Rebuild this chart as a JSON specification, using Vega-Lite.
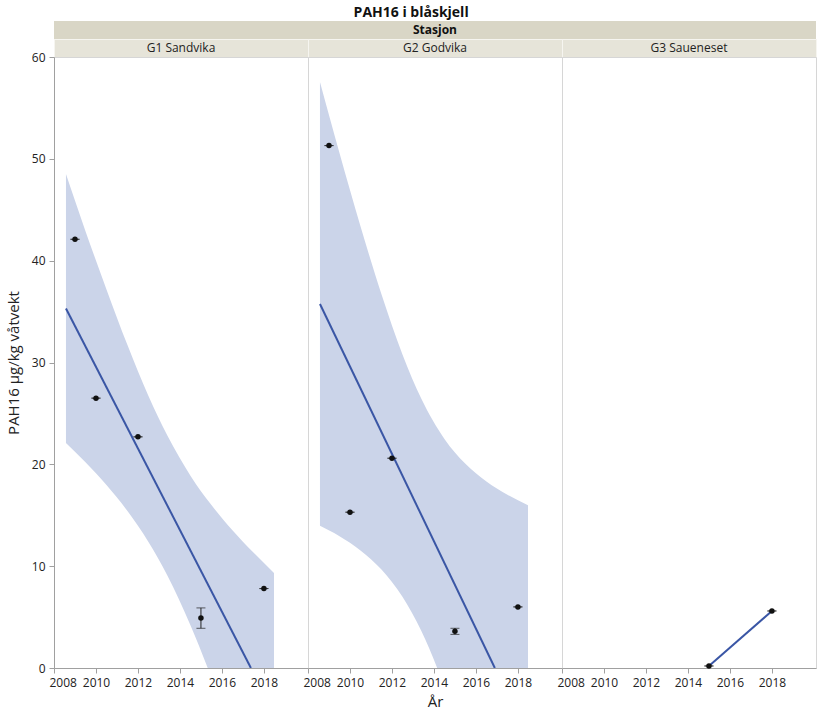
{
  "$schema": "https://vega.github.io/schema/vega-lite/v6.json",
  "padding": {"left": 5, "top": 6, "right": 5, "bottom": 5},
  "background": "white",
  "title": {"text": "PAH16 i blåskjell", "fontSize": 14, "fontWeight": "bold", "font": "Open Sans", "color": "#111", "anchor": "middle", "offset": 1},
  "datasets": {
    "points": [
      {"stasjon": "G1 Sandvika", "year": 2009, "value": 42.1, "lo": 42.1, "hi": 42.1},
      {"stasjon": "G1 Sandvika", "year": 2010, "value": 26.5, "lo": 26.5, "hi": 26.5},
      {"stasjon": "G1 Sandvika", "year": 2012, "value": 22.7, "lo": 22.7, "hi": 22.7},
      {"stasjon": "G1 Sandvika", "year": 2015, "value": 4.9, "lo": 3.9, "hi": 5.9},
      {"stasjon": "G1 Sandvika", "year": 2018, "value": 7.8, "lo": 7.8, "hi": 7.8},
      {"stasjon": "G2 Godvika", "year": 2009, "value": 51.3, "lo": 51.3, "hi": 51.3},
      {"stasjon": "G2 Godvika", "year": 2010, "value": 15.3, "lo": 15.3, "hi": 15.3},
      {"stasjon": "G2 Godvika", "year": 2012, "value": 20.6, "lo": 20.6, "hi": 20.6},
      {"stasjon": "G2 Godvika", "year": 2015, "value": 3.6, "lo": 3.3, "hi": 3.9},
      {"stasjon": "G2 Godvika", "year": 2018, "value": 6.0, "lo": 6.0, "hi": 6.0},
      {"stasjon": "G3 Saueneset", "year": 2015, "value": 0.2, "lo": 0.2, "hi": 0.2},
      {"stasjon": "G3 Saueneset", "year": 2018, "value": 5.6, "lo": 5.6, "hi": 5.6}
    ],
    "fit": [
      {"stasjon": "G1 Sandvika", "year": 2008.57, "value": 35.3},
      {"stasjon": "G1 Sandvika", "year": 2017.38, "value": 0},
      {"stasjon": "G2 Godvika", "year": 2008.57, "value": 35.75},
      {"stasjon": "G2 Godvika", "year": 2016.9, "value": 0},
      {"stasjon": "G3 Saueneset", "year": 2015, "value": 0.2},
      {"stasjon": "G3 Saueneset", "year": 2018, "value": 5.6}
    ],
    "band": [
      {"stasjon": "G1 Sandvika", "year": 2008.57, "lo": 22.1, "hi": 48.5},
      {"stasjon": "G1 Sandvika", "year": 2009.5, "lo": 20.2, "hi": 42.9},
      {"stasjon": "G1 Sandvika", "year": 2010.5, "lo": 17.96, "hi": 37.18},
      {"stasjon": "G1 Sandvika", "year": 2011.5, "lo": 15.41, "hi": 31.71},
      {"stasjon": "G1 Sandvika", "year": 2012.5, "lo": 12.38, "hi": 26.72},
      {"stasjon": "G1 Sandvika", "year": 2013.4, "lo": 9.08, "hi": 22.82},
      {"stasjon": "G1 Sandvika", "year": 2014.5, "lo": 4.19, "hi": 18.89},
      {"stasjon": "G1 Sandvika", "year": 2015.5, "lo": -0.94, "hi": 16.0},
      {"stasjon": "G1 Sandvika", "year": 2016.5, "lo": -6.49, "hi": 13.53},
      {"stasjon": "G1 Sandvika", "year": 2017.5, "lo": -12.3, "hi": 11.34},
      {"stasjon": "G1 Sandvika", "year": 2018.48, "lo": -18.15, "hi": 9.33},
      {"stasjon": "G2 Godvika", "year": 2008.57, "lo": 13.96, "hi": 57.54},
      {"stasjon": "G2 Godvika", "year": 2009.5, "lo": 12.94, "hi": 50.58},
      {"stasjon": "G2 Godvika", "year": 2010.5, "lo": 11.55, "hi": 43.39},
      {"stasjon": "G2 Godvika", "year": 2011.5, "lo": 9.67, "hi": 36.69},
      {"stasjon": "G2 Godvika", "year": 2012.5, "lo": 6.99, "hi": 30.79},
      {"stasjon": "G2 Godvika", "year": 2013.4, "lo": 3.63, "hi": 26.43},
      {"stasjon": "G2 Godvika", "year": 2014.5, "lo": -1.88, "hi": 22.5},
      {"stasjon": "G2 Godvika", "year": 2015.5, "lo": -8.01, "hi": 20.05},
      {"stasjon": "G2 Godvika", "year": 2016.5, "lo": -14.85, "hi": 18.31},
      {"stasjon": "G2 Godvika", "year": 2017.5, "lo": -22.13, "hi": 17.01},
      {"stasjon": "G2 Godvika", "year": 2018.48, "lo": -29.51, "hi": 15.99}
    ]
  },
  "columns": 3,
  "spacing": 0,
  "bounds": "flush",
  "concat": [
    {
      "data": {"values": [{"t": ""}]},
      "width": 254, "height": 18,
      "view": {"fill": "#d9d6c6", "stroke": null},
      "mark": {"type": "text", "fontSize": 12},
      "encoding": {"text": {"field": "t"}}
    },
    {
      "data": {"values": [{"t": "Stasjon"}]},
      "width": 254, "height": 18,
      "view": {"fill": "#d9d6c6", "stroke": null},
      "mark": {"type": "text", "fontSize": 12, "fontWeight": "bold", "font": "Open Sans", "color": "#111"},
      "encoding": {"text": {"field": "t"}}
    },
    {
      "data": {"values": [{"t": ""}]},
      "width": 254, "height": 18,
      "view": {"fill": "#d9d6c6", "stroke": null},
      "mark": {"type": "text", "fontSize": 12},
      "encoding": {"text": {"field": "t"}}
    },
    {
      "data": {"values": [{"t": "G1 Sandvika"}]},
      "width": 254, "height": 18,
      "view": {"fill": "#e6e4d9", "stroke": "#f6f5f0"},
      "mark": {"type": "text", "fontSize": 12, "font": "Open Sans", "color": "#222"},
      "encoding": {"text": {"field": "t"}}
    },
    {
      "data": {"values": [{"t": "G2 Godvika"}]},
      "width": 254, "height": 18,
      "view": {"fill": "#e6e4d9", "stroke": "#f6f5f0"},
      "mark": {"type": "text", "fontSize": 12, "font": "Open Sans", "color": "#222"},
      "encoding": {"text": {"field": "t"}}
    },
    {
      "data": {"values": [{"t": "G3 Saueneset"}]},
      "width": 254, "height": 18,
      "view": {"fill": "#e6e4d9", "stroke": "#f6f5f0"},
      "mark": {"type": "text", "fontSize": 12, "font": "Open Sans", "color": "#222"},
      "encoding": {"text": {"field": "t"}}
    },
    {
      "width": 254, "height": 611,
      "layer": [
        {
          "data": {"name": "band"},
          "transform": [{"filter": "datum.stasjon === 'G1 Sandvika'"}],
          "mark": {"type": "area", "color": "#cbd4e9", "opacity": 1, "clip": true, "interpolate": "monotone"},
          "encoding": {
            "x": {"field": "year", "type": "quantitative", "scale": {"domain": [2008, 2020.1], "nice": false}, "axis": {"values": [2008, 2010, 2012, 2014, 2016, 2018], "format": "d", "title": null, "labelFlush": true, "labelFlushOffset": 5}},
            "y": {"field": "lo", "type": "quantitative", "scale": {"domain": [0, 60], "nice": false}, "axis": {"values": [0, 10, 20, 30, 40, 50, 60], "title": "PAH16 µg/kg våtvekt", "titleFontSize": 15, "titleFontWeight": "normal", "titlePadding": 10}},
            "y2": {"field": "hi"}
          }
        },
        {
          "data": {"name": "fit"},
          "transform": [{"filter": "datum.stasjon === 'G1 Sandvika'"}],
          "mark": {"type": "line", "color": "#3a56a5", "strokeWidth": 2, "clip": true},
          "encoding": {"x": {"field": "year", "type": "quantitative"}, "y": {"field": "value", "type": "quantitative"}}
        },
        {
          "data": {"name": "points"},
          "transform": [{"filter": "datum.stasjon === 'G1 Sandvika'"}],
          "layer": [
            {"mark": {"type": "rule", "color": "#222", "strokeWidth": 1}, "encoding": {"x": {"field": "year", "type": "quantitative"}, "y": {"field": "lo", "type": "quantitative"}, "y2": {"field": "hi"}}},
            {"mark": {"type": "tick", "orient": "horizontal", "color": "#222", "size": 9, "thickness": 1}, "encoding": {"x": {"field": "year", "type": "quantitative"}, "y": {"field": "lo", "type": "quantitative"}}},
            {"mark": {"type": "tick", "orient": "horizontal", "color": "#222", "size": 9, "thickness": 1}, "encoding": {"x": {"field": "year", "type": "quantitative"}, "y": {"field": "hi", "type": "quantitative"}}},
            {"mark": {"type": "point", "filled": true, "color": "#111", "size": 30, "opacity": 1}, "encoding": {"x": {"field": "year", "type": "quantitative"}, "y": {"field": "value", "type": "quantitative"}}}
          ]
        }
      ]
    },
    {
      "width": 254, "height": 611,
      "layer": [
        {
          "data": {"name": "band"},
          "transform": [{"filter": "datum.stasjon === 'G2 Godvika'"}],
          "mark": {"type": "area", "color": "#cbd4e9", "opacity": 1, "clip": true, "interpolate": "monotone"},
          "encoding": {
            "x": {"field": "year", "type": "quantitative", "scale": {"domain": [2008, 2020.1], "nice": false}, "axis": {"values": [2008, 2010, 2012, 2014, 2016, 2018], "format": "d", "title": "År", "titleFontSize": 15, "titleFontWeight": "normal", "titlePadding": 6, "labelFlush": true, "labelFlushOffset": 5}},
            "y": {"field": "lo", "type": "quantitative", "scale": {"domain": [0, 60], "nice": false}, "axis": null},
            "y2": {"field": "hi"}
          }
        },
        {
          "data": {"name": "fit"},
          "transform": [{"filter": "datum.stasjon === 'G2 Godvika'"}],
          "mark": {"type": "line", "color": "#3a56a5", "strokeWidth": 2, "clip": true},
          "encoding": {"x": {"field": "year", "type": "quantitative"}, "y": {"field": "value", "type": "quantitative"}}
        },
        {
          "data": {"name": "points"},
          "transform": [{"filter": "datum.stasjon === 'G2 Godvika'"}],
          "layer": [
            {"mark": {"type": "rule", "color": "#222", "strokeWidth": 1}, "encoding": {"x": {"field": "year", "type": "quantitative"}, "y": {"field": "lo", "type": "quantitative"}, "y2": {"field": "hi"}}},
            {"mark": {"type": "tick", "orient": "horizontal", "color": "#222", "size": 9, "thickness": 1}, "encoding": {"x": {"field": "year", "type": "quantitative"}, "y": {"field": "lo", "type": "quantitative"}}},
            {"mark": {"type": "tick", "orient": "horizontal", "color": "#222", "size": 9, "thickness": 1}, "encoding": {"x": {"field": "year", "type": "quantitative"}, "y": {"field": "hi", "type": "quantitative"}}},
            {"mark": {"type": "point", "filled": true, "color": "#111", "size": 30, "opacity": 1}, "encoding": {"x": {"field": "year", "type": "quantitative"}, "y": {"field": "value", "type": "quantitative"}}}
          ]
        }
      ]
    },
    {
      "width": 254, "height": 611,
      "layer": [
        {
          "data": {"name": "fit"},
          "transform": [{"filter": "datum.stasjon === 'G3 Saueneset'"}],
          "mark": {"type": "line", "color": "#3a56a5", "strokeWidth": 2, "clip": true},
          "encoding": {
            "x": {"field": "year", "type": "quantitative", "scale": {"domain": [2008, 2020.1], "nice": false}, "axis": {"values": [2008, 2010, 2012, 2014, 2016, 2018], "format": "d", "title": null, "labelFlush": true, "labelFlushOffset": 5}},
            "y": {"field": "value", "type": "quantitative", "scale": {"domain": [0, 60], "nice": false}, "axis": null}
          }
        },
        {
          "data": {"name": "points"},
          "transform": [{"filter": "datum.stasjon === 'G3 Saueneset'"}],
          "layer": [
            {"mark": {"type": "rule", "color": "#222", "strokeWidth": 1}, "encoding": {"x": {"field": "year", "type": "quantitative"}, "y": {"field": "lo", "type": "quantitative"}, "y2": {"field": "hi"}}},
            {"mark": {"type": "tick", "orient": "horizontal", "color": "#222", "size": 9, "thickness": 1}, "encoding": {"x": {"field": "year", "type": "quantitative"}, "y": {"field": "lo", "type": "quantitative"}}},
            {"mark": {"type": "tick", "orient": "horizontal", "color": "#222", "size": 9, "thickness": 1}, "encoding": {"x": {"field": "year", "type": "quantitative"}, "y": {"field": "hi", "type": "quantitative"}}},
            {"mark": {"type": "point", "filled": true, "color": "#111", "size": 30, "opacity": 1}, "encoding": {"x": {"field": "year", "type": "quantitative"}, "y": {"field": "value", "type": "quantitative"}}}
          ]
        }
      ]
    }
  ],
  "config": {
    "font": "Open Sans",
    "view": {"stroke": "#d6d6d6"},
    "axis": {
      "grid": false,
      "domainColor": "#a0a0a0",
      "tickColor": "#a0a0a0",
      "tickSize": 5,
      "labelPadding": 4,
      "labelFontSize": 12,
      "labelColor": "#222",
      "titleColor": "#222",
      "labelFont": "Open Sans",
      "titleFont": "Open Sans"
    }
  }
}
